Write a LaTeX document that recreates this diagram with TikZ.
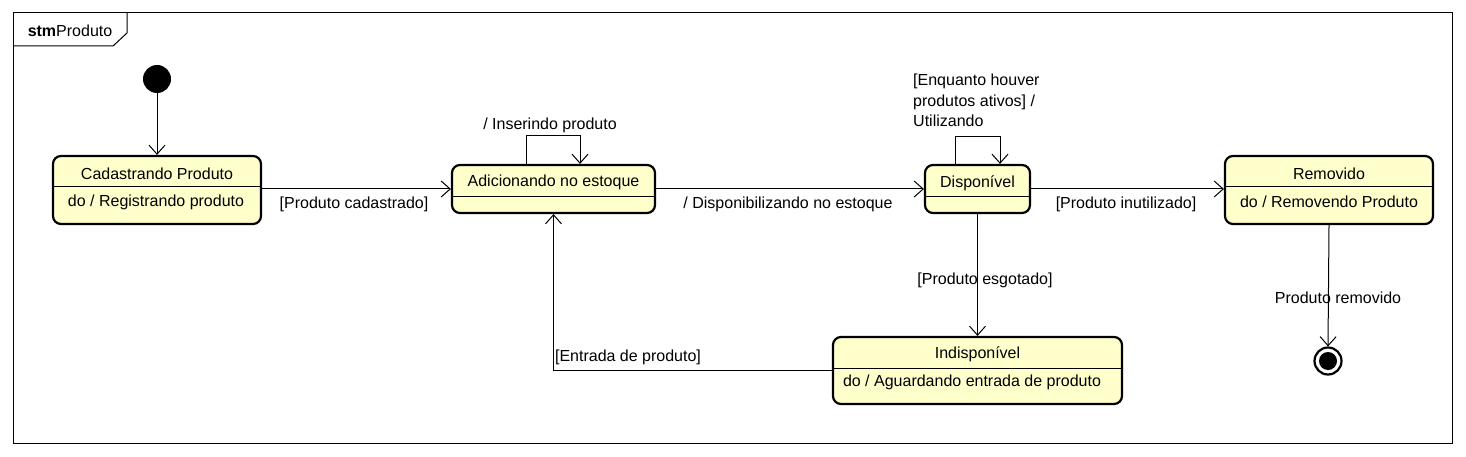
\documentclass[tikz,border=0pt]{standalone}
\usepackage{fontspec}
\setmainfont{Liberation Sans}
\usetikzlibrary{arrows.meta,positioning}
\definecolor{statefill}{RGB}{255,255,204}
\tikzset{
  stbox/.style={draw=black, line width=2.2pt, rounded corners=8pt, fill=statefill, inner sep=0pt},
  lbl/.style={inner sep=0pt, font=\fontsize{16}{19}\selectfont},
  conn/.style={draw=black, line width=1pt, -{Straight Barb[length=9pt,width=16pt,line width=1pt]}},
  divl/.style={draw=black, line width=1pt},
}
\begin{document}
\begin{tikzpicture}[x=1pt,y=-1pt]
\useasboundingbox (0,0) rectangle (1466,457);
\fill[white] (0,0) rectangle (1466,457);
% frame
\node[draw=black, line width=1pt, minimum width=1439pt, minimum height=430pt, inner sep=0pt] (frame) at (732.5,228) {};
\draw[line width=1pt] (13,46) coordinate (tabA) -- (113,46) coordinate (tabB) -- (127,33) coordinate (tabC) -- (127,13) coordinate (tabD);
\node[lbl, anchor=base] (tabtxt) at (70,37) {\textbf{stm}Produto};

% initial & final
\node[circle, fill=black, minimum size=28pt, inner sep=0pt] (init) at (157,79) {};
\node[circle, draw=black, line width=2.2pt, fill=white, minimum size=27pt, inner sep=0pt] (fin) at (1328,361) {};
\node[circle, fill=black, minimum size=18pt, inner sep=0pt] (finin) at (1328,361) {};

% states
\node[stbox, minimum width=208pt, minimum height=68pt] (cad) at (157,190) {};
\draw[divl] ([yshift=3pt]cad.west) -- ([yshift=3pt]cad.east);
\node[lbl] (cadt) at (157,174) {Cadastrando Produto};
\node[lbl] (cadb) at (156,202) {do / Registrando produto};

\node[stbox, minimum width=203pt, minimum height=48pt] (add) at (553.5,189) {};
\draw[divl] ([yshift=-8pt]add.west) -- ([yshift=-8pt]add.east);
\node[lbl] (addt) at (553.5,182) {Adicionando no estoque};

\node[stbox, minimum width=105pt, minimum height=48pt] (disp) at (977.5,189) {};
\draw[divl] ([yshift=-8pt]disp.west) -- ([yshift=-8pt]disp.east);
\node[lbl] (dispt) at (977.5,183) {Disponível};

\node[stbox, minimum width=208pt, minimum height=68pt] (rem) at (1329,190) {};
\draw[divl] ([yshift=3pt]rem.west) -- ([yshift=3pt]rem.east);
\node[lbl] (remt) at (1329,174) {Removido};
\node[lbl] (remb) at (1329,202) {do / Removendo Produto};

\node[stbox, minimum width=289pt, minimum height=67pt] (ind) at (977.5,370.5) {};
\draw[divl] ([yshift=2.5pt]ind.west) -- ([yshift=2.5pt]ind.east);
\node[lbl] (indt) at (977.5,354) {Indisponível};
\node[lbl] (indb) at (972,382) {do / Aguardando entrada de produto};

% connectors
\draw[conn] (init) -- (cad.north);
\draw[conn] (cad.east |- add.west) -- (add.west);
\node[lbl] (l1) at (354,204) {[Produto cadastrado]};
\draw[conn] ([xshift=-27.5pt]add.north) -- ++(0,-28) -| ([xshift=26.5pt]add.north);
\node[lbl] (l2) at (550,125) {/ Inserindo produto};
\draw[conn] (add.east) -- (disp.west);
\node[lbl] (l3) at (788,204) {/ Disponibilizando no estoque};
\draw[conn] ([xshift=-22.5pt]disp.north) -- ++(0,-27) -| ([xshift=22.5pt]disp.north);
\node[lbl, align=left, anchor=north west, font=\fontsize{16}{20.5}\selectfont] (l4) at (913,74) {[Enquanto houver\\produtos ativos] /\\Utilizando};
\draw[conn] (disp.east) -- (rem.west |- disp.east);
\node[lbl] (l5) at (1126,204) {[Produto inutilizado]};
\draw[conn] (disp.south) -- (ind.north);
\node[lbl] (l6) at (985,280) {[Produto esgotado]};
\draw[conn] (ind.west) -| (add.south);
\node[lbl] (l7) at (628,357) {[Entrada de produto]};
\draw[conn] (rem.south) -- (fin.north);
\node[lbl] (l8) at (1338,298) {Produto removido};
\end{tikzpicture}
\end{document}
